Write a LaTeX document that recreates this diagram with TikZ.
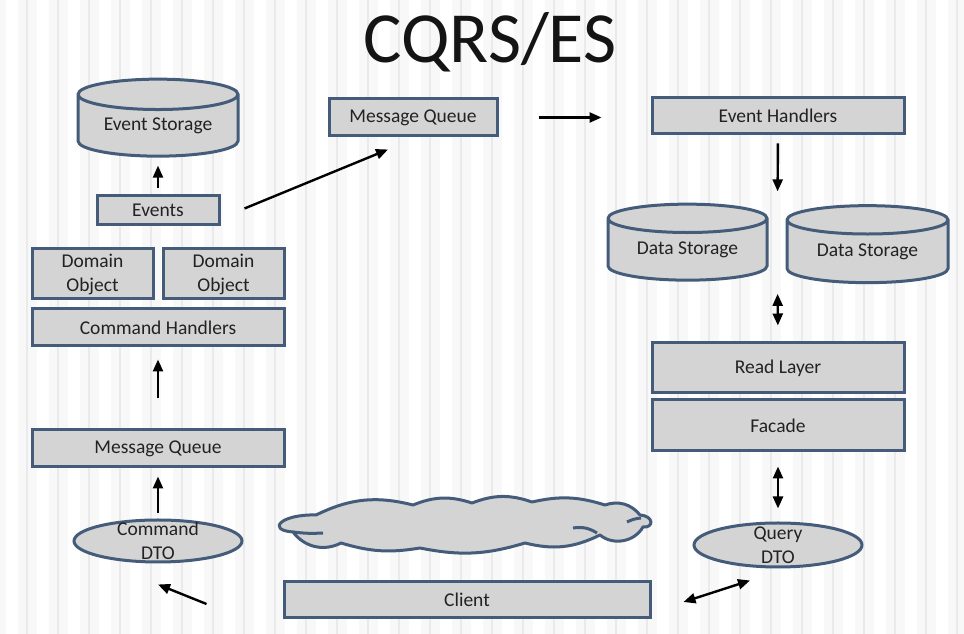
\documentclass[tikz,border=0pt]{standalone}
\usepackage{fontspec}
\setmainfont{Carlito}
\usetikzlibrary{shapes.geometric,arrows.meta,calc}
\definecolor{boxfill}{RGB}{212,212,212}
\definecolor{boxline}{RGB}{68,92,122}
\definecolor{txt}{RGB}{34,34,34}
\definecolor{bg}{RGB}{248,248,248}
\definecolor{stripe}{RGB}{234,234,234}
\tikzstyle{box} = [draw=boxline, fill=boxfill, line width=3pt, inner sep=0pt, font=\fontsize{19.5}{24}\selectfont, text=txt, align=center]
\tikzstyle{store} = [box, cylinder, shape border rotate=90, aspect=0.28]
\tikzstyle{dto} = [box, ellipse]
\tikzstyle{puff} = [draw=boxline, fill=boxfill, line width=3pt, line join=round]
\tikzstyle{arr} = [-{Triangle[length=12pt,width=10pt]}, line width=2.4pt]
\tikzstyle{darr} = [{Triangle[length=12pt,width=10pt]}-{Triangle[length=12pt,width=10pt]}, line width=2.4pt]

\begin{document}
\begin{tikzpicture}[x=1pt,y=1pt]

% background with faint stripes
\useasboundingbox (0,0) rectangle (964,634);
\fill[bg] (0,0) rectangle (964,634);
\foreach \sx in {6,37,...,964} {
  \fill[white] (\sx,0) rectangle ++(12,634);
  \fill[stripe] (\sx+20,0) rectangle ++(1.5,634);
}

\node[font=\fontsize{72}{80}\selectfont, text=black!92] (title) at (490,592) {CQRS/ES};

% write side
\node[store, minimum width=160pt, minimum height=77pt] (estore) at (158,508) {Event Storage};
\node[box, minimum width=122pt, minimum height=29pt] (events) at (158,423.5) {Events};
\node[box, minimum width=121pt, minimum height=50pt] (dom1) at (92.5,360) {Domain\\Object};
\node[box, minimum width=121pt, minimum height=50pt] (dom2) at (223.5,360) {Domain\\Object};
\node[box, minimum width=252pt, minimum height=37pt] (cmdh) at (158,306.5) {Command Handlers};
\node[box, minimum width=252pt, minimum height=37pt] (mqleft) at (158,185.5) {Message Queue};
\node[dto, minimum width=168pt, minimum height=42pt, label={[box, draw=none, fill=none]center:Command\\DTO}] (cmddto) at (158,93) {};

% middle
\node[box, minimum width=168pt, minimum height=37pt] (mqtop) at (413,516.5) {Message Queue};
\coordinate (cloud) at (466,108);
\node[box, minimum width=366pt, minimum height=36pt] (client) at (467,34) {Client};

% read side
\node[box, minimum width=252pt, minimum height=36pt] (evh) at (778,518) {Event Handlers};
\node[store, minimum width=159pt, minimum height=76pt] (ds1) at (687.5,384) {Data Storage};
\node[store, minimum width=161pt, minimum height=77pt] (ds2) at (867.5,382) {Data Storage};
\node[box, minimum width=252pt, minimum height=50pt] (readl) at (778,266) {Read Layer};
\node[box, minimum width=252pt, minimum height=51pt] (facade) at (778,208.5) {Facade};
\node[dto, minimum width=168pt, minimum height=44pt, label={[box, draw=none, fill=none]center:Query\\DTO}] (qdto) at (778,89) {};

% the cloud
\begin{scope}[shift={(cloud)}]
\draw[puff] (-173,-6) .. controls (-200,-4) and (-185,12) .. (-150,11)
  to[bend left=20] (-53,21) to[bend left=20] (6,23) to[bend left=20] (66,24)
  to[bend left=15] (139,21) to[bend left=35] (174,11)
  .. controls (188,10) and (188,-2) .. (177,-1)
  to[bend left=50] (134,-9) to[bend left=20] (59,-17) to[bend left=14] (-46,-22)
  to[bend left=13] (-125,-17) to[bend left=40] (-173,-6) -- cycle;
\draw[puff, fill=none] (-173,-6) to[bend right=5] (-143,-7);
\draw[puff, fill=none] (107,-2) to[bend left=20] (131,-7);
\draw[puff, fill=none] (161,4) to[bend left=10] (175,8);
\end{scope}

\coordinate (dstop) at ($(ds1.north)!0.5!(ds2.north)$);
\coordinate (dsbot) at ($(ds1.south)!0.5!(ds2.south)$);

\path
(events) edge [arr, shorten <=6pt, shorten >=8pt] (estore)
([xshift=24pt,yshift=2pt]events.east) edge [arr] ([xshift=-25pt,yshift=-12pt]mqtop.south)
(mqtop.east) edge [arr, shorten <=40pt, shorten >=49pt] (mqtop.east -| evh.west)
(mqleft.north) edge [arr, shorten <=30pt, shorten >=12pt] (cmdh.south)
(cmddto.north) edge [arr, shorten <=5pt, shorten >=8pt] (mqleft.south)
([xshift=-76pt,yshift=-4pt]client.west) edge [arr] ([yshift=-21pt]cmddto.south);

\path
(evh.south) edge [arr, shorten <=8pt, shorten >=12pt] (dstop)
(dsbot) edge [darr, shorten <=11pt, shorten >=16pt] (readl.north)
(facade.south) edge [darr, shorten <=14pt, shorten >=13pt] (qdto.north)
([xshift=32pt,yshift=-2pt]client.east) edge [darr] ([xshift=-28pt,yshift=-12pt]qdto.south);

\end{tikzpicture}
\end{document}
